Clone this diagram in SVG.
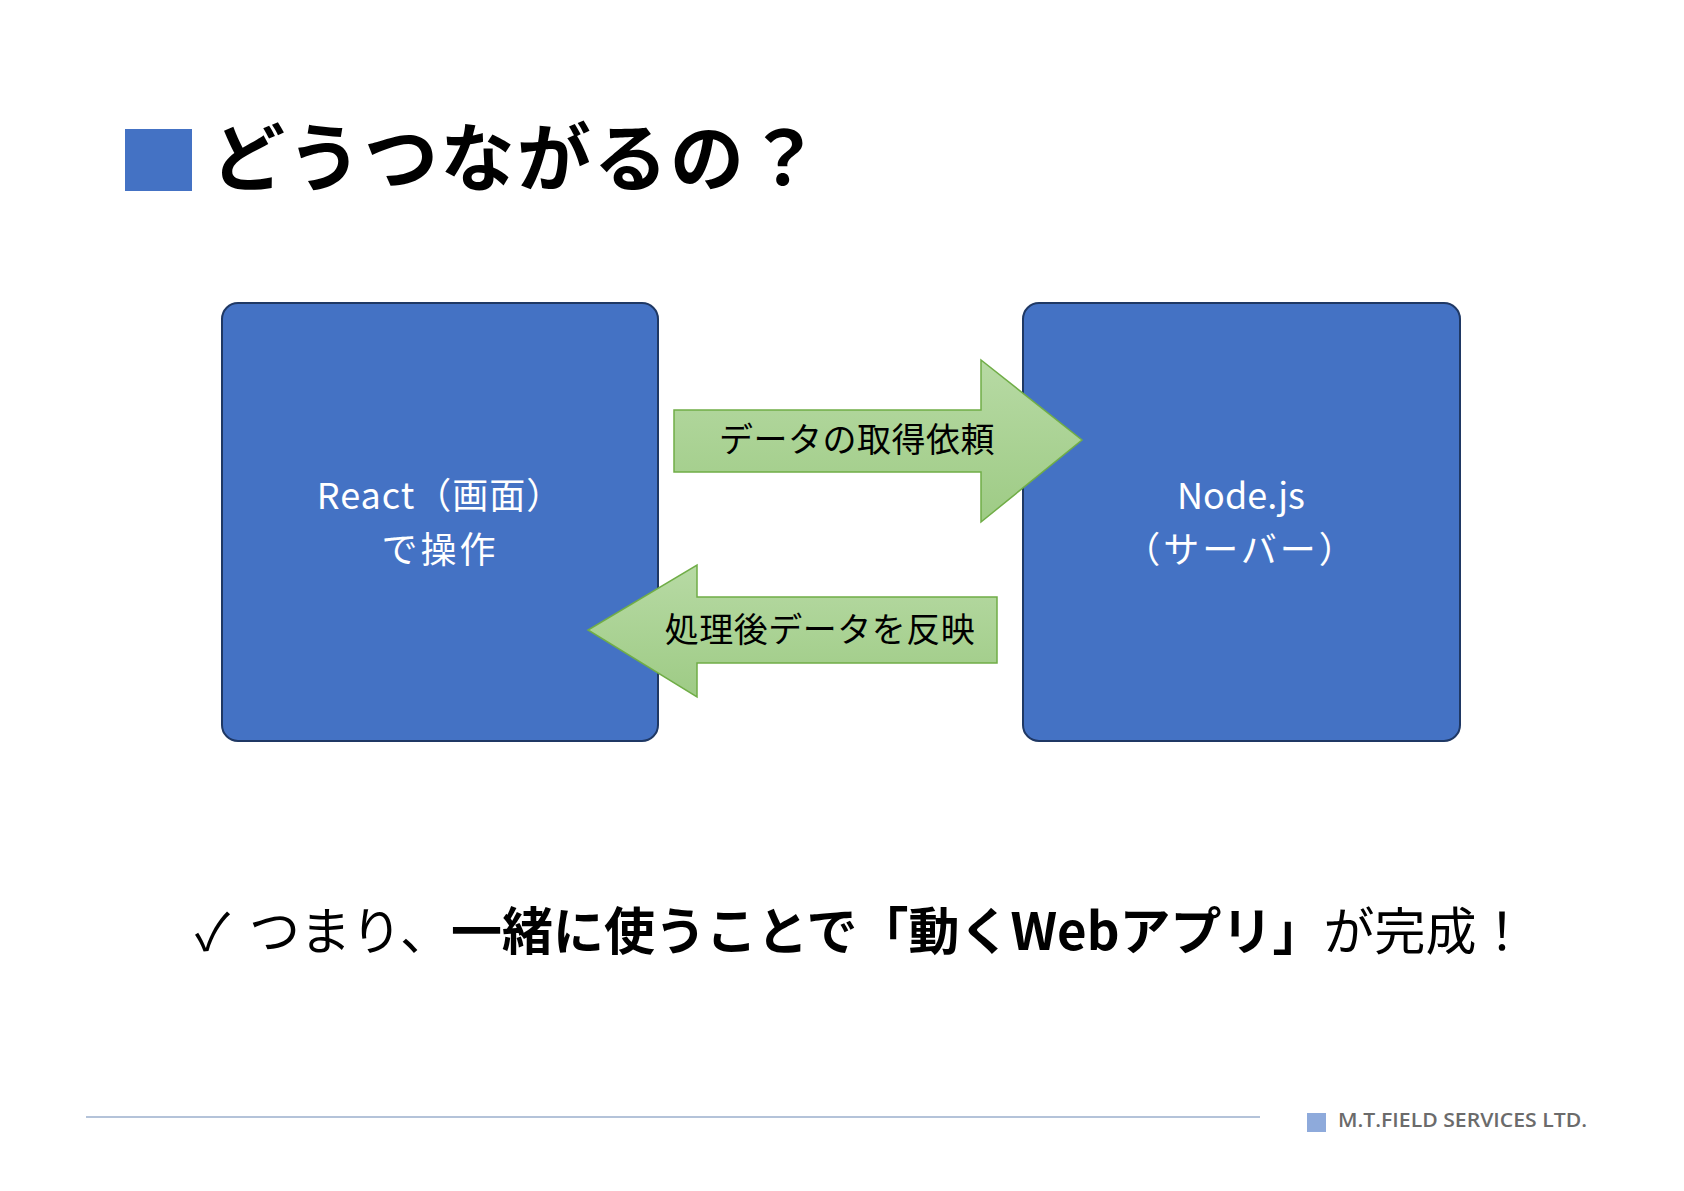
<svg xmlns="http://www.w3.org/2000/svg" width="1684" height="1191" viewBox="0 0 1684 1191">
<style>
.jp{font-family:"Noto Sans CJK JP","Noto Sans",sans-serif;}
.box{fill:#4472c4;stroke:#1f3864;stroke-width:2;}
.arrow{fill:url(#g);stroke:#70ad47;stroke-width:1.5;}
.nt{fill:#ffffff;font-size:36px;text-anchor:middle;}
.at{fill:#000000;font-size:34px;text-anchor:middle;letter-spacing:0.5px;}
</style>
<defs>
<linearGradient id="g" x1="0" y1="0" x2="0" y2="1">
<stop offset="0" stop-color="#b7daa4"/>
<stop offset="1" stop-color="#9ecb85"/>
</linearGradient>
</defs>
<rect width="1684" height="1191" fill="#ffffff"/>
<g id="title">
<rect x="125" y="129" width="67" height="62" fill="#4472c4"/>
<text class="jp" x="211" y="185" font-size="74" font-weight="bold" fill="#000000" letter-spacing="2.5">どうつながるの？</text>
</g>
<g id="react">
<rect class="box" x="222" y="303" width="436" height="438" rx="16" ry="16"/>
<text class="jp nt" x="440" y="509" letter-spacing="1">React（画面）</text>
<text class="jp nt" x="440" y="563" letter-spacing="3">で操作</text>
</g>
<g id="node">
<rect class="box" x="1023" y="303" width="437" height="438" rx="16" ry="16"/>
<text class="jp nt" x="1241" y="509">Node.js</text>
<text class="jp nt" x="1241" y="563" letter-spacing="3">（サーバー）</text>
</g>
<g id="connectors">
<g id="req">
<polygon class="arrow" points="674,410 981,410 981,360 1082,440 981,522 981,472 674,472"/>
<text class="jp at" x="857" y="452">データの取得依頼</text>
</g>
<g id="res">
<polygon class="arrow" points="997,597 697,597 697,565 588,630 697,697 697,663 997,663"/>
<text class="jp at" x="820" y="642">処理後データを反映</text>
</g>
</g>
<g id="summary">
<text class="jp" x="195" y="950" font-size="51" fill="#000000">✓<tspan x="249">つまり、</tspan><tspan font-weight="bold">一緒に使うことで「動くWebアプリ」</tspan>が完成！</text>
</g>
<g id="footer">
<line x1="86" y1="1117" x2="1260" y2="1117" stroke="#b4c3d9" stroke-width="2"/>
<rect x="1307" y="1113" width="19" height="19" fill="#8eaadb"/>
<text x="1338" y="1127" font-family="'Open Sans',sans-serif" font-size="20" font-weight="600" fill="#6b6b6b" textLength="249" lengthAdjust="spacingAndGlyphs">M.T.FIELD SERVICES LTD.</text>
</g>
</svg>
